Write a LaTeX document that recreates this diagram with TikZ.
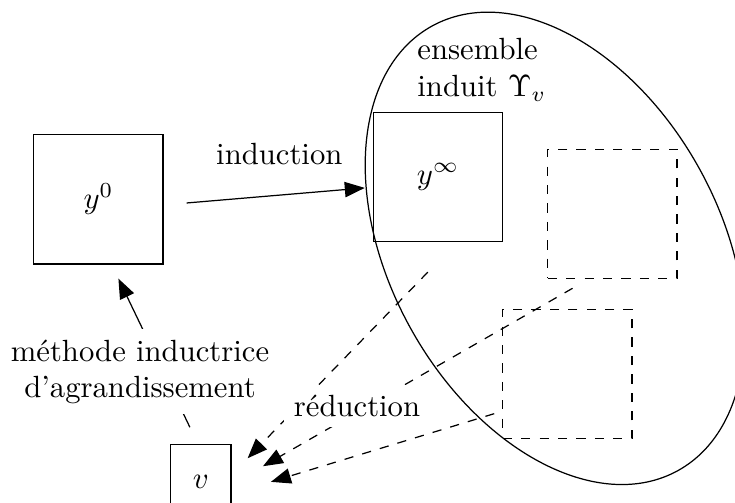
\documentclass[tikz,border=0pt]{standalone}
\usepackage{amsmath,amssymb}
\usepackage{tikz}
\usetikzlibrary{arrows.meta,positioning,shapes.geometric}

\begin{document}
\begin{tikzpicture}[
  box/.style={draw, minimum width=1.48cm, minimum height=1.48cm, inner sep=0pt},
  dbox/.style={box, dashed},
  arr/.style={-{Triangle[length=6.5pt,width=5pt]}},
  darr/.style={arr, dashed},
  lbl/.style={fill=white, align=center}
]
\useasboundingbox (0,0) rectangle (8.42,5.76);

% the induced set
\node[draw, ellipse, minimum width=5.82cm, minimum height=3.78cm,
      inner sep=0pt, rotate=-61] (ens) at (6.357,2.915) {};
\node[align=left] (enslbl) at (5.52,4.96) {ensemble\\induit $\Upsilon_v$};

\node[box] (y0) at (1.128,3.477) {$y^0$};
\node[box] (yinf) at (5.017,3.734) {$y^\infty$};
\node[dbox] (d1) at (7.016,3.310) {};
\node[dbox] (d2) at (6.500,1.478) {};
\node[draw, minimum width=0.69cm, minimum height=0.85cm] (v) at (2.302,0.240) {$v$};

\draw[arr] ([xshift=7.5pt,yshift=-1.2pt]y0.east) -- ([xshift=-2.6pt,yshift=-3.6pt]yinf.west);
\node (ind) at (3.20,4.00) {induction};

\draw[arr] ([xshift=-3.6pt,yshift=5.5pt]v.north) -- ([xshift=6.5pt,yshift=-4.6pt]y0.south);
\node[lbl] (meth) at (1.604,1.50) {méthode inductrice\\d'agrandissement};

\draw[darr] ([xshift=-3.3pt,yshift=-9.8pt]yinf.south) -- ([xshift=5.2pt,yshift=-4.6pt]v.north east);
\draw[darr] ([xshift=-13pt,yshift=-3pt]d1.south) -- ([xshift=10.2pt,yshift=-7.2pt]v.north east);
\draw[darr] ([xshift=-2.6pt,yshift=-13pt]d2.west) -- ([xshift=12.8pt]v.east);
\node[lbl] (red) at (4.09,1.11) {réduction};
\end{tikzpicture}
\end{document}
